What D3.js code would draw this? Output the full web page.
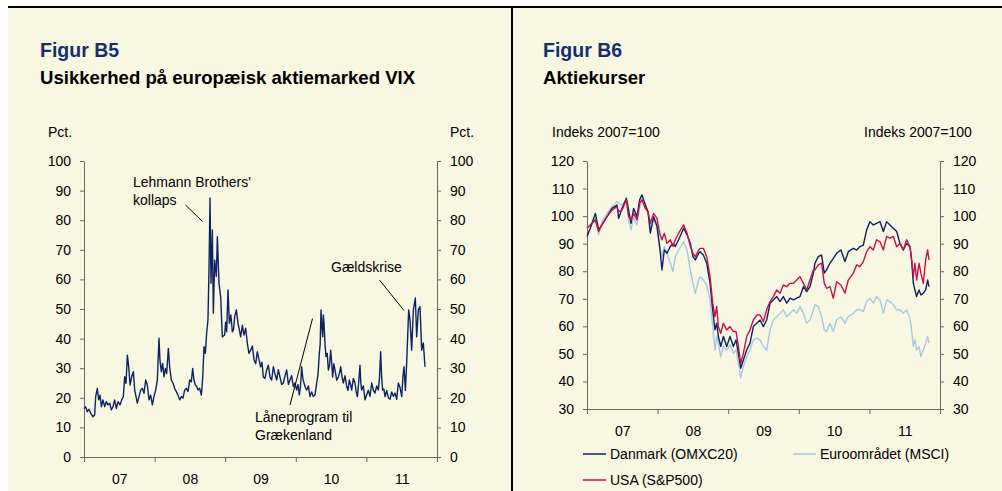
<!DOCTYPE html>
<html>
<head>
<meta charset="utf-8">
<script src="https://cdn.jsdelivr.net/npm/d3@7"></script>
<style>
  body { margin: 0; background: #fff; }
  svg text { font-family: "Liberation Sans", Arial, sans-serif; fill: #000; }
  .axis path, .axis line { stroke: #666; stroke-width: 1; }
  .axis text { font-size: 14px; }
</style>
</head>
<body>
<div id="chart"></div>
<script>
(function (d3) {
    'use strict';

    // Year boundaries on the x-axis and the labels between them.
    var yearTicks = [2007, 2008, 2009, 2010, 2011, 2012];
    var yearMids = [2007.5, 2008.5, 2009.5, 2010.5, 2011.5];
    var yearLabels = ['07', '08', '09', '10', '11'];

    var vixTicks = [0, 10, 20, 30, 40, 50, 60, 70, 80, 90, 100];
    var stockTicks = [30, 40, 50, 60, 70, 80, 90, 100, 110, 120];

    // Figur B5: VIX, [decimal year, pct.]
    var vix = [
        [2007.000, 16.4], [2007.024, 17.0], [2007.047, 15.3], [2007.071, 16.1], [2007.094, 14.8],
        [2007.127, 13.6], [2007.151, 14.2], [2007.165, 20.4], [2007.189, 23.2], [2007.208, 19.3],
        [2007.227, 20.9], [2007.246, 17.0], [2007.269, 19.3], [2007.293, 17.0], [2007.316, 18.7],
        [2007.340, 17.6], [2007.364, 18.2], [2007.387, 15.9], [2007.411, 17.0], [2007.434, 19.3],
        [2007.458, 16.4], [2007.482, 18.7], [2007.510, 17.6], [2007.534, 19.3], [2007.557, 20.4],
        [2007.576, 27.1], [2007.595, 24.9], [2007.614, 34.4], [2007.633, 30.5], [2007.652, 24.3],
        [2007.675, 27.1], [2007.699, 28.8], [2007.718, 22.6], [2007.737, 20.4], [2007.755, 18.2],
        [2007.779, 20.4], [2007.803, 22.6], [2007.826, 23.2], [2007.850, 21.5], [2007.873, 26.0],
        [2007.897, 24.3], [2007.921, 19.3], [2007.944, 20.9], [2007.968, 17.6], [2007.991, 20.4],
        [2008.015, 22.6], [2008.039, 26.0], [2008.062, 40.1], [2008.076, 32.7], [2008.095, 28.8],
        [2008.114, 31.6], [2008.133, 27.1], [2008.152, 29.9], [2008.171, 28.2], [2008.195, 36.7],
        [2008.213, 30.5], [2008.237, 26.0], [2008.261, 24.9], [2008.284, 23.2], [2008.308, 22.1],
        [2008.331, 20.9], [2008.355, 19.3], [2008.379, 20.4], [2008.402, 19.9], [2008.426, 22.6],
        [2008.449, 23.2], [2008.473, 22.1], [2008.497, 26.0], [2008.520, 25.4], [2008.539, 29.9],
        [2008.558, 26.0], [2008.577, 24.3], [2008.596, 23.8], [2008.615, 22.6], [2008.638, 23.2],
        [2008.662, 20.9], [2008.681, 26.6], [2008.700, 37.3], [2008.719, 35.0], [2008.737, 41.8],
        [2008.756, 46.3], [2008.771, 64.0], [2008.785, 87.5], [2008.799, 58.7], [2008.818, 76.7],
        [2008.832, 48.6], [2008.851, 66.5], [2008.874, 61.0], [2008.889, 74.4], [2008.912, 58.7],
        [2008.936, 54.0], [2008.959, 40.6], [2008.992, 41.2], [2009.006, 45.5], [2009.021, 42.3],
        [2009.040, 56.4], [2009.059, 45.2], [2009.080, 48.0], [2009.101, 42.3], [2009.118, 43.0],
        [2009.134, 47.4], [2009.158, 49.7], [2009.181, 45.2], [2009.200, 43.0], [2009.219, 40.6],
        [2009.243, 44.5], [2009.266, 41.2], [2009.290, 43.5], [2009.313, 38.5], [2009.337, 35.0],
        [2009.361, 36.1], [2009.385, 37.5], [2009.408, 32.8], [2009.432, 31.5], [2009.455, 35.6],
        [2009.478, 33.0], [2009.502, 30.5], [2009.521, 32.0], [2009.540, 27.0], [2009.563, 26.5],
        [2009.587, 29.4], [2009.611, 31.0], [2009.635, 27.0], [2009.658, 26.0], [2009.682, 30.5],
        [2009.705, 28.0], [2009.729, 26.0], [2009.752, 29.5], [2009.776, 27.0], [2009.800, 24.5],
        [2009.824, 25.0], [2009.848, 27.5], [2009.871, 29.4], [2009.895, 24.5], [2009.918, 26.0],
        [2009.941, 27.5], [2009.965, 23.8], [2009.988, 25.0], [2010.012, 22.6], [2010.031, 24.5],
        [2010.050, 21.0], [2010.067, 24.0], [2010.083, 30.5], [2010.100, 26.5], [2010.116, 25.0],
        [2010.135, 23.5], [2010.154, 22.6], [2010.178, 24.0], [2010.201, 20.4], [2010.225, 22.0],
        [2010.248, 20.4], [2010.272, 21.0], [2010.296, 25.0], [2010.315, 28.0], [2010.333, 35.0],
        [2010.345, 38.0], [2010.357, 49.7], [2010.369, 44.0], [2010.381, 40.6], [2010.390, 48.0],
        [2010.400, 45.2], [2010.414, 38.0], [2010.428, 33.9], [2010.445, 35.0], [2010.461, 29.4],
        [2010.478, 31.0], [2010.494, 36.1], [2010.508, 32.0], [2010.522, 27.0], [2010.539, 31.5],
        [2010.555, 29.4], [2010.579, 26.0], [2010.603, 27.0], [2010.620, 28.5], [2010.636, 30.5],
        [2010.655, 27.0], [2010.673, 25.0], [2010.697, 27.5], [2010.721, 23.8], [2010.740, 22.5],
        [2010.758, 26.0], [2010.775, 24.5], [2010.791, 22.6], [2010.815, 26.5], [2010.839, 25.0],
        [2010.856, 22.0], [2010.872, 20.4], [2010.890, 25.0], [2010.909, 31.0], [2010.921, 25.0],
        [2010.933, 22.6], [2010.957, 24.0], [2010.980, 19.3], [2011.004, 21.0], [2011.027, 22.6],
        [2011.051, 20.5], [2011.075, 25.0], [2011.098, 22.5], [2011.122, 21.6], [2011.146, 24.0],
        [2011.169, 22.6], [2011.186, 27.0], [2011.202, 35.6], [2011.216, 27.0], [2011.230, 22.6],
        [2011.247, 23.0], [2011.264, 20.4], [2011.288, 22.5], [2011.311, 20.0], [2011.335, 19.5],
        [2011.358, 22.0], [2011.382, 20.5], [2011.405, 21.6], [2011.429, 19.5], [2011.452, 25.0],
        [2011.476, 23.5], [2011.500, 20.4], [2011.517, 27.0], [2011.533, 30.5], [2011.552, 22.5],
        [2011.570, 31.7], [2011.599, 49.7], [2011.618, 46.3], [2011.641, 36.1], [2011.665, 49.7],
        [2011.693, 53.7], [2011.712, 40.6], [2011.736, 49.7], [2011.759, 50.8], [2011.783, 36.1],
        [2011.806, 38.5], [2011.830, 30.5]
    ];

    // Figur B6: share prices, index 2007=100
    var stockYears = [
        2007.000, 2007.047, 2007.118, 2007.165, 2007.212, 2007.283, 2007.354, 2007.425, 2007.449, 2007.496,
        2007.557, 2007.590, 2007.623, 2007.661, 2007.708, 2007.746, 2007.779, 2007.826, 2007.864, 2007.897,
        2007.944, 2007.991, 2008.029, 2008.062, 2008.095, 2008.133, 2008.180, 2008.218, 2008.251, 2008.298,
        2008.369, 2008.416, 2008.464, 2008.501, 2008.534, 2008.582,
        2008.601, 2008.648, 2008.695, 2008.743, 2008.780, 2008.813, 2008.837, 2008.861, 2008.894, 2008.932,
        2008.979, 2009.026, 2009.073, 2009.111, 2009.144, 2009.177, 2009.215, 2009.262, 2009.309, 2009.356,
        2009.404, 2009.451, 2009.498, 2009.545, 2009.593, 2009.640, 2009.687, 2009.734, 2009.781, 2009.829,
        2009.876, 2009.923, 2009.970, 2010.017, 2010.065, 2010.112, 2010.159, 2010.206,
        2010.229, 2010.276, 2010.323, 2010.361, 2010.394, 2010.441, 2010.489, 2010.536, 2010.597, 2010.654,
        2010.701, 2010.772, 2010.819, 2010.866, 2010.914, 2010.961, 2011.008, 2011.055, 2011.102, 2011.150,
        2011.197, 2011.244, 2011.291, 2011.339, 2011.386, 2011.433, 2011.480, 2011.527, 2011.575, 2011.598,
        2011.622, 2011.645, 2011.669, 2011.702, 2011.730, 2011.763, 2011.797, 2011.825, 2011.844
    ];
    var danmark = [
        92.6, 95.6, 101, 95, 96.8, 99.8, 102.8, 104, 99.2, 102.8,
        106.5, 102.2, 97.4, 102.8, 99.8, 105.9, 107.7, 104, 101.6, 93.8,
        99.8, 96.2, 89, 80.5, 87.7, 86.5, 89, 90.1, 89, 91.4,
        95.6, 93.2, 90.1, 85.3, 84.1, 86.5,
        87.1, 85.9, 82.9, 75.6, 66, 58.7, 61.1, 56.3, 52.7, 56.3,
        52.7, 56.3, 52.7, 55.1, 50.2, 44.8, 47.8, 51.4, 53.9, 59.9,
        61.1, 62.3, 59.9, 62.3, 68.4, 69.6, 70.8, 69, 70.8, 68.4,
        70.2, 69.6, 70.2, 70.8, 74.4, 72.6, 74.4, 79.3,
        82.9, 85.3, 85.9, 79.3, 80.5, 82.9, 84.7, 86.5, 87.7, 83.5,
        87.1, 88.3, 87.7, 88.9, 89.5, 95, 98, 96.8, 97.4, 98,
        94.4, 98, 96.8, 95.6, 94.4, 90.1, 87.7, 90.1, 88.9, 84.1,
        75.6, 73.2, 70.8, 73.2, 71.4, 72, 73.2, 76.8, 74.4
    ];
    var euro = [
        95.6, 96.8, 99.2, 93.2, 98, 101, 103.4, 105.3, 104.7, 104,
        105.9, 98.6, 95, 99.8, 96.8, 103.4, 105.9, 104.7, 101, 96.2,
        98.6, 97.4, 89, 85.3, 89, 86.5, 82.9, 79.9, 85.3, 87.7,
        90.7, 87.7, 80.5, 75.6, 72, 76.8,
        78, 76.8, 75, 69.6, 59.9, 51.4, 56.3, 53.9, 49, 52.7,
        51.4, 53.3, 50.2, 51.4, 46.6, 41.2, 45.4, 49, 51.4, 55.1,
        55.7, 55.1, 52.7, 51.4, 58.7, 62.3, 63.5, 64.7, 66, 63.5,
        64.7, 66, 64.7, 67.2, 64.7, 61.1, 62.3, 66,
        67.8, 67.2, 63.5, 58.7, 58.1, 61.1, 58.1, 62.3, 63.5, 61.1,
        63.5, 64.7, 66, 66, 65.4, 69, 70.2, 68.4, 70.8, 69.6,
        64.7, 69.6, 69, 67.8, 66, 66, 64.7, 66, 62.9, 58.7,
        52.7, 55.1, 51.4, 52.7, 49, 51.4, 53.9, 56.3, 53.9
    ];
    var usa = [
        95.6, 96.8, 98.6, 94.4, 96.8, 99.8, 102.2, 103.4, 101.6, 102.2,
        105.9, 99.8, 98.6, 101, 98.6, 104.7, 105.9, 102.8, 101.6, 97.4,
        101, 99.2, 93.8, 91.4, 93.8, 90.1, 91.4, 89, 91.4, 93.8,
        96.8, 93.8, 89, 86.5, 85.3, 87.7,
        88.3, 88.3, 85.3, 78, 68.4, 63.5, 67.2, 59.9, 57.5, 61.1,
        58.7, 59.9, 58.1, 58.1, 52.7, 46.6, 50.2, 56.3, 58.7, 62.3,
        64.1, 64.1, 61.7, 66, 69, 70.8, 73.2, 72, 75, 74.4,
        75.6, 75.6, 76.8, 78, 75.6, 73.2, 76.8, 80.5,
        80.5, 82.3, 82.9, 75.6, 73.8, 74.4, 70.2, 76.2, 75, 72,
        76.8, 79.3, 82.3, 81.7, 83.5, 87.1, 88.9, 87.7, 91.4, 90.7,
        87.7, 92.6, 92, 92.6, 88.9, 90.1, 87.7, 91.4, 88.9, 84.1,
        78, 82.9, 76.8, 82.9, 79.3, 75.6, 84.1, 87.7, 84.1
    ];

    var stockSeries = [
        {name: 'Euroområdet (MSCI)', values: euro, color: '#a9c9e2'},
        {name: 'Danmark (OMXC20)', values: danmark, color: '#0d2263'},
        {name: 'USA (S&P500)', values: usa, color: '#c8104b'}
    ];

    var navy = '#0d2263';
    var titleBlue = '#14306f';

    var svg = d3.select('#chart').append('svg')
        .attr('width', 1002)
        .attr('height', 491);

    // Cream page with the frame lines.
    svg.append('rect')
        .attr('x', 8).attr('y', 8)
        .attr('width', 994).attr('height', 483)
        .attr('fill', '#f8f7e1');
    svg.append('line')
        .attr('x1', 8).attr('x2', 1002).attr('y1', 7).attr('y2', 7)
        .attr('stroke', '#000').attr('stroke-width', 2);
    svg.append('line')
        .attr('x1', 512).attr('x2', 512).attr('y1', 7).attr('y2', 491)
        .attr('stroke', '#000').attr('stroke-width', 2);

    function titles(x, fig, sub) {
        svg.append('text')
            .attr('x', x).attr('y', 57)
            .style('font-size', '19.5px').style('font-weight', 'bold')
            .style('fill', titleBlue)
            .text(fig);
        svg.append('text')
            .attr('x', x).attr('y', 84)
            .style('font-size', '18.6px').style('font-weight', 'bold')
            .text(sub);
    }

    // Draws both y-axes and the year axis for one panel.
    function axes(x, y, ticks) {
        var x0 = x.range()[0], x1 = x.range()[1];
        var yb = y.range()[0];

        svg.append('g')
            .attr('class', 'axis')
            .attr('transform', 'translate(' + x0 + ',0)')
            .call(d3.axisLeft(y).tickValues(ticks).tickSize(4).tickSizeOuter(0).tickPadding(9));

        svg.append('g')
            .attr('class', 'axis')
            .attr('transform', 'translate(' + x1 + ',0)')
            .call(d3.axisRight(y).tickValues(ticks).tickSize(4).tickSizeOuter(0).tickPadding(9));

        svg.append('g')
            .attr('class', 'axis')
            .attr('transform', 'translate(0,' + yb + ')')
            .call(d3.axisBottom(x).tickValues(yearTicks).tickFormat('').tickSize(5).tickSizeOuter(0));

        var lab = svg.append('g')
            .attr('class', 'axis')
            .attr('transform', 'translate(0,' + yb + ')')
            .call(d3.axisBottom(x).tickValues(yearMids).tickSize(0).tickPadding(17)
                .tickFormat(function (d, i) { return yearLabels[i]; }));
        lab.select('.domain').remove();
    }

    function unitLabels(xl, xr, txt) {
        svg.append('text').attr('x', xl).attr('y', 137)
            .style('font-size', '14px').text(txt);
        svg.append('text').attr('x', xr).attr('y', 137)
            .style('font-size', '14px').text(txt);
    }

    function note(lines, tx, ty, from, to) {
        var t = svg.append('text')
            .attr('x', tx).attr('y', ty)
            .style('font-size', '14px');
        lines.forEach(function (l, i) {
            t.append('tspan').attr('x', tx).attr('dy', i ? 17.5 : 0).text(l);
        });
        svg.append('line')
            .attr('x1', from[0]).attr('y1', from[1])
            .attr('x2', to[0]).attr('y2', to[1])
            .attr('stroke', '#000').attr('stroke-width', 1);
    }

    // ---- Figur B5 ----
    titles(40, 'Figur B5', 'Usikkerhed på europæisk aktiemarked VIX');
    unitLabels(48, 450, 'Pct.');

    var xL = d3.scaleLinear().domain([2007, 2012]).range([84, 437]);
    var yL = d3.scaleLinear().domain([0, 100]).range([457, 161]);

    axes(xL, yL, vixTicks);

    svg.append('path')
        .datum(vix)
        .attr('fill', 'none')
        .attr('stroke', navy)
        .attr('stroke-width', 1.4)
        .attr('stroke-linejoin', 'round')
        .attr('d', d3.line()
            .x(function (d) { return xL(d[0]); })
            .y(function (d) { return yL(d[1]); }));

    note(['Lehmann Brothers\'', 'kollaps'], 133, 187, [185.5, 205], [202.5, 221.5]);
    note(['Gældskrise'], 331, 272, [379.5, 280], [404, 310.5]);
    note(['Låneprogram til', 'Grækenland'], 255, 422, [290, 405], [312.5, 318.5]);

    // ---- Figur B6 ----
    titles(543, 'Figur B6', 'Aktiekurser');
    unitLabels(552, 864, 'Indeks 2007=100');

    var xR = d3.scaleLinear().domain([2007, 2012]).range([587, 940]);
    var yR = d3.scaleLinear().domain([30, 120]).range([409, 161]);

    axes(xR, yR, stockTicks);

    var stockLine = d3.line()
        .x(function (d, i) { return xR(stockYears[i]); })
        .y(function (d) { return yR(d); });

    stockSeries.forEach(function (s) {
        svg.append('path')
            .datum(s.values)
            .attr('fill', 'none')
            .attr('stroke', s.color)
            .attr('stroke-width', 1.4)
            .attr('stroke-linejoin', 'round')
            .attr('d', stockLine);
    });

    // Legend
    var legend = [
        {s: stockSeries[1], x: 583, y: 454},
        {s: stockSeries[0], x: 793, y: 454},
        {s: stockSeries[2], x: 583, y: 480}
    ];
    legend.forEach(function (l) {
        svg.append('line')
            .attr('x1', l.x).attr('x2', l.x + 23)
            .attr('y1', l.y).attr('y2', l.y)
            .attr('stroke', l.s.color).attr('stroke-width', 1.5);
        svg.append('text')
            .attr('x', l.x + 27).attr('y', l.y + 5)
            .style('font-size', '14px')
            .text(l.s.name);
    });

})(d3);
</script>
</body>
</html>
